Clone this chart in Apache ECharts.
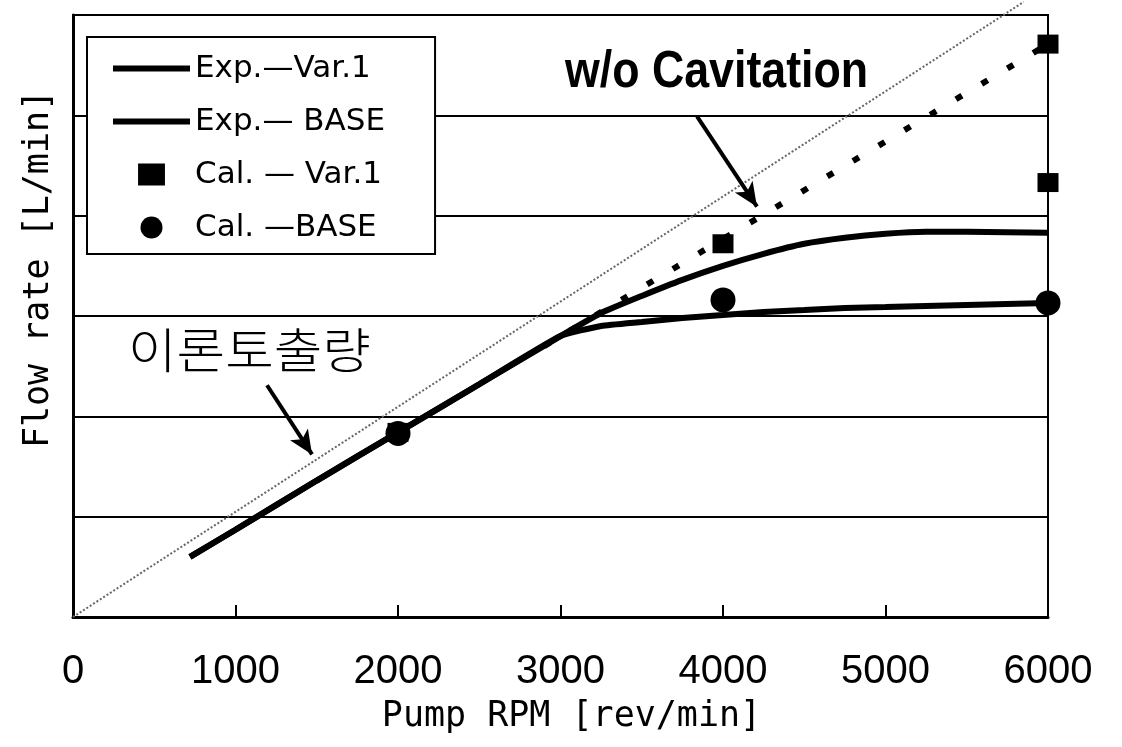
<!DOCTYPE html>
<html>
<head>
<meta charset="utf-8">
<script src="https://cdn.jsdelivr.net/npm/echarts@6/dist/echarts.min.js"></script>
<style>
  html, body { margin: 0; padding: 0; background: #fff; }
  #chart { width: 1122px; height: 747px; }
</style>
</head>
<body>
<div id="chart"></div>
<script>
// measured curves (flow in arbitrary units, axis has no numbers)
const rpmExp = [720, 1000, 1500, 2000, 2500, 3000, 3250, 3500, 3750, 4000, 4250, 4500, 4750, 5000, 5250, 5500, 6000];
const flowVar1 = [6.0, 8.7, 13.6, 18.4, 23.2, 28.0, 30.3, 32.0, 33.6, 35.0, 36.2, 37.2, 37.8, 38.2, 38.4, 38.4, 38.3];
const flowBase = [6.0, 8.7, 13.6, 18.4, 23.2, 28.0, 29.0, 29.4, 29.8, 30.1, 30.4, 30.6, 30.8, 30.9, 31.0, 31.1, 31.3];

// calculated points
const calRpmVar1 = [2000, 4000, 6000, 6000];
const calVar1 = [18.4, 37.2, 43.3, 57.1];
const calRpmBase = [2000, 4000, 6000];
const calBase = [18.3, 31.6, 31.3];

// w/o cavitation (dotted) and theoretical discharge (thin grey)
const noCavRpm = [2900, 6000];
const noCavFlow = [27.0, 57.1];
const theoryRpm = [0, 5850];
const theoryFlow = [0, 61.3];

const xTicks = [0, 1000, 2000, 3000, 4000, 5000, 6000];

const zip = (xs, ys) => xs.map((x, i) => [x, ys[i]]);

const myChart = echarts.init(document.getElementById("chart"));

const option = {
  animation: false,
  backgroundColor: "#fff",
  grid: {
    left: 73,
    right: 74,
    top: 15,
    bottom: 130,
    show: true,
    borderColor: "#000",
    borderWidth: 2,
  },
  legend: {
    orient: "vertical",
    left: 87,
    top: 37,
    padding: [16, 50, 11, 26],
    itemWidth: 77,
    itemHeight: 22,
    itemGap: 22,
    symbolKeepAspect: true,
    backgroundColor: "#fff",
    borderColor: "#000",
    borderWidth: 2,
    borderRadius: 0,
    selectedMode: false,
    itemStyle: { opacity: 1 },
    textStyle: {
      fontFamily: "DejaVu Sans",
      fontSize: 31,
      lineHeight: 30,
      color: "#000",
    },
    data: [
      { name: "Exp.—Var.1", icon: "path://M0 0H77V6H0Z" },
      { name: "Exp.— BASE", icon: "path://M0 0H77V6H0Z" },
      { name: "Cal. — Var.1", icon: "path://M0 0H22V18H0Z" },
      { name: "Cal. —BASE", icon: "circle" },
    ],
  },
  xAxis: {
    type: "value",
    min: 0,
    max: 6000,
    interval: 1000,
    name: "Pump RPM [rev/min]",
    nameLocation: "middle",
    nameGap: 82,
    nameTextStyle: {
      fontFamily: "DejaVu Sans Mono",
      fontSize: 35,
      color: "#000",
      padding: [0, 0, 0, 22],
    },
    axisLine: { lineStyle: { color: "#000", width: 3 } },
    axisTick: { inside: true, length: 12, lineStyle: { color: "#000", width: 2 } },
    axisLabel: {
      margin: 35,
      fontFamily: "Liberation Sans",
      fontSize: 40,
      color: "#000",
      formatter: (v) => (xTicks.includes(v) ? String(v) : ""),
    },
    splitLine: { show: false },
  },
  yAxis: {
    type: "value",
    min: 0,
    max: 60,
    interval: 10,
    name: "Flow rate [L/min]",
    nameLocation: "middle",
    nameGap: 17,
    nameTextStyle: {
      fontFamily: "DejaVu Sans Mono",
      fontSize: 35,
      color: "#000",
      padding: [0, 0, 0, 94],
    },
    axisLine: { lineStyle: { color: "#000", width: 3 } },
    axisTick: { show: false },
    axisLabel: { show: false },
    splitLine: { lineStyle: { color: "#000", width: 2 } },
  },
  graphic: [
    {
      type: "text",
      x: 565,
      y: 73,
      scaleX: 0.86,
      z: 10,
      style: {
        text: "w/o Cavitation",
        x: 0,
        y: 0,
        fill: "#000",
        font: "bold 52px 'Liberation Sans', Arial, sans-serif",
        textAlign: "left",
        textVerticalAlign: "middle",
      },
    },
    {
      type: "text",
      x: 128,
      y: 350,
      scaleX: 1.1,
      z: 10,
      style: {
        text: "이론토출량",
        x: 0,
        y: 0,
        fill: "#000",
        font: "300 48px 'Noto Sans CJK KR', sans-serif",
        textAlign: "left",
        textVerticalAlign: "middle",
      },
    },
  ],
  series: [
    {
      name: "이론토출량",
      type: "line",
      data: zip(theoryRpm, theoryFlow),
      symbol: "none",
      clip: false,
      z: 1,
      lineStyle: { color: "#666", width: 2, type: [2, 2] },
      markLine: {
        silent: true,
        symbol: ["none", "arrow"],
        symbolSize: [16, 24],
        label: { show: false },
        lineStyle: { color: "#000", width: 4, type: "solid" },
        data: [
          [{ coord: [3840, 49.9] }, { coord: [4209, 40.9] }],
          [{ coord: [1194, 23.1] }, { coord: [1471, 16.2] }],
        ],
      },
    },
    {
      name: "w/o Cavitation",
      type: "line",
      data: zip(noCavRpm, noCavFlow),
      symbol: "none",
      lineStyle: { color: "#000", width: 6, type: [7, 23] },
    },
    {
      name: "Exp.—Var.1",
      type: "line",
      data: zip(rpmExp, flowVar1),
      symbol: "none",
      smooth: 0.15,
      color: "#000",
      clip: false,
      lineStyle: { color: "#000", width: 6 },
    },
    {
      name: "Exp.— BASE",
      type: "line",
      data: zip(rpmExp, flowBase),
      symbol: "none",
      smooth: 0.15,
      color: "#000",
      clip: false,
      lineStyle: { color: "#000", width: 6 },
    },
    {
      name: "Cal. — Var.1",
      type: "scatter",
      data: zip(calRpmVar1, calVar1),
      symbol: "rect",
      symbolSize: [21, 19],
      clip: false,
      color: "#000",
      itemStyle: { color: "#000", opacity: 1 },
      z: 5,
    },
    {
      name: "Cal. —BASE",
      type: "scatter",
      data: zip(calRpmBase, calBase),
      symbol: "circle",
      symbolSize: 25,
      clip: false,
      color: "#000",
      itemStyle: { color: "#000", opacity: 1 },
      z: 5,
    },
  ],
};

myChart.setOption(option);
</script>
</body>
</html>
